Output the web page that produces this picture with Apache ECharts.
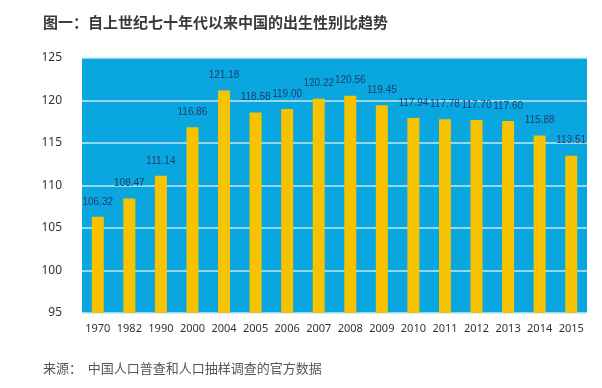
<!DOCTYPE html>
<html><head><meta charset="utf-8">
<script src="https://cdn.jsdelivr.net/npm/echarts@6/dist/echarts.min.js"></script>
<style>html,body{margin:0;padding:0;background:#fff}#c{width:602px;height:388px}</style>
</head><body><div id="c"></div>
<script>
const categories = ['1970','1982','1990','2000','2004','2005','2006','2007','2008','2009','2010','2011','2012','2013','2014','2015'];
const ratios = [106.32,108.47,111.14,116.86,121.18,118.58,119.00,120.22,120.56,119.45,117.94,117.78,117.70,117.60,115.88,113.51];
const yTicks = {min:95, max:125, interval:5};
const titleText = '图一：自上世纪七十年代以来中国的出生性别比趋势';
const sourceText = '来源：  中国人口普查和人口抽样调查的官方数据';

const chart = echarts.init(document.getElementById('c'));
chart.setOption({
  animation:false,
  title:[
    {text:titleText,left:38,top:10,textStyle:{fontFamily:'Noto Sans CJK SC',fontSize:15,fontWeight:'bold',color:'#3a3a3a'}},
    {text:sourceText,left:38,top:357,textStyle:{fontFamily:'Noto Sans CJK SC',fontSize:13,fontWeight:'normal',color:'#555'}}
  ],
  grid:{left:82,right:15,top:58,bottom:75,show:true,backgroundColor:'#0aa6df',borderWidth:0},
  xAxis:{type:'category',data:categories,axisLine:{show:false},axisTick:{show:false},
    axisLabel:{color:'#333',fontSize:11,fontFamily:'Noto Sans',margin:10,interval:0}},
  yAxis:{type:'value',min:yTicks.min,max:yTicks.max,interval:yTicks.interval,
    axisLine:{show:false},axisTick:{show:false},
    axisLabel:{color:'#333',fontSize:12,fontFamily:'Noto Sans',margin:20},
    splitLine:{lineStyle:{color:'#bfe9f8',width:1.5}}},
  series:[{type:'bar',data:ratios,barWidth:12,itemStyle:{color:'#f7c200'},
    label:{show:true,position:'top',distance:10,color:'#1d3f6b',fontSize:10,fontFamily:'Liberation Sans',
      formatter:p=>p.value.toFixed(2)}}]
});
</script></body></html>
